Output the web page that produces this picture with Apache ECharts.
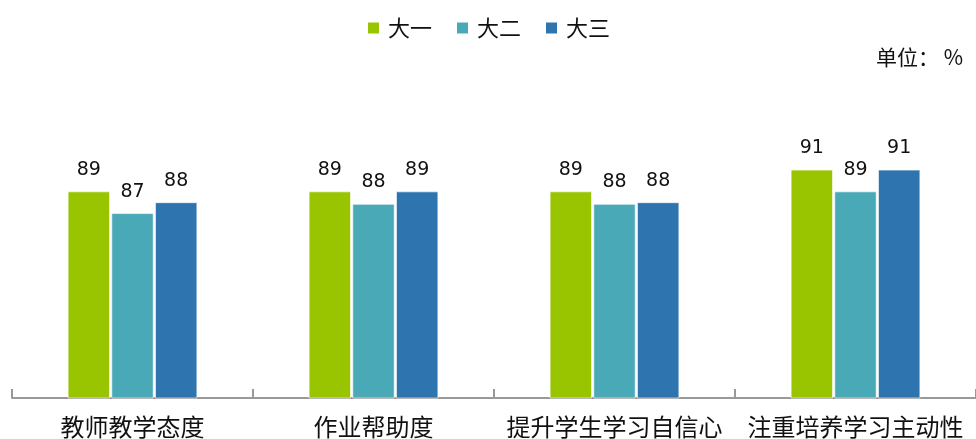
<!DOCTYPE html>
<html>
<head>
<meta charset="utf-8">
<script src="https://cdn.jsdelivr.net/npm/echarts@6/dist/echarts.min.js"></script>
<style>html,body{margin:0;padding:0;background:#fff;}#c{width:976px;height:439px;}</style>
</head>
<body>
<div id="c"></div>
<script>
var categories = ['教师教学态度', '作业帮助度', '提升学生学习自信心', '注重培养学习主动性'];
var seriesNames = ['大一', '大二', '大三'];
var year1 = [89, 89, 89, 91];
var year2 = [87, 87.85, 87.85, 89];
var year3 = [88, 89, 88, 91];
var unitText = '单位： %';
var colors = ['#99C400', '#4AA9B7', '#2E74AE'];

var chart = echarts.init(document.getElementById('c'));
var cjk = '"Noto Sans CJK SC", sans-serif';
function mk(name, data, color) {
  return {
    name: name, type: 'bar', data: data,
    barWidth: 42, barGap: '4%',
    itemStyle: { color: color, borderColor: '#fff', borderWidth: 0.6 },
    label: {
      show: true, position: 'top', distance: 12,
      fontFamily: '"DejaVu Sans", sans-serif', fontSize: 19, color: '#111',
      formatter: function (p) { return Math.round(p.value); }
    }
  };
}
chart.setOption({
  animation: false,
  color: colors,
  legend: {
    data: seriesNames, left: 'center', top: 12,
    icon: 'rect', itemWidth: 13, itemHeight: 13, itemGap: 23,
    textStyle: { fontFamily: cjk, fontSize: 22, color: '#111', padding: [0, 0, 0, 3] }
  },
  graphic: [{
    type: 'text', right: 13, top: 47,
    style: { text: unitText, font: '21px "Noto Sans CJK SC", sans-serif', fill: '#111' }
  }],
  grid: { left: 12, right: -4, top: 72, bottom: 41, containLabel: false },
  xAxis: {
    type: 'category', data: categories,
    axisLine: { show: true, lineStyle: { color: '#999', width: 2 } },
    axisTick: { show: true, inside: true, length: 9, alignWithLabel: false, interval: 0, lineStyle: { color: '#999', width: 2 } },
    axisLabel: { fontFamily: cjk, fontSize: 24, color: '#111', margin: 17, interval: 0 }
  },
  yAxis: {
    type: 'value', min: 70, max: 100, show: false,
    splitLine: { show: false }
  },
  series: [mk(seriesNames[0], year1, colors[0]), mk(seriesNames[1], year2, colors[1]), mk(seriesNames[2], year3, colors[2])]
});
</script>
</body>
</html>
